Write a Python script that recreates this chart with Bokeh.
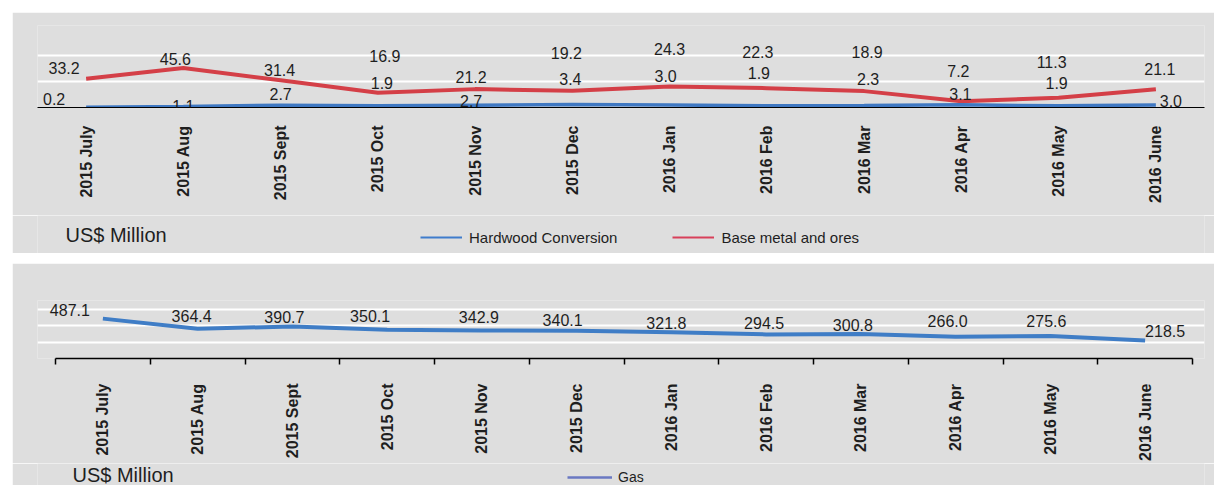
import math
from bokeh.plotting import figure
from bokeh.layouts import column
from bokeh.models import (ColumnDataSource, FixedTicker, Range1d, LinearAxis, Label,
                          LabelSet, Legend, LegendItem, Grid)
from bokeh.embed import file_html
from bokeh.resources import INLINE
from bokeh.core.properties import value

# ---------------- data ----------------
months = ["2015 July", "2015 Aug", "2015 Sept", "2015 Oct", "2015 Nov", "2015 Dec",
          "2016 Jan", "2016 Feb", "2016 Mar", "2016 Apr", "2016 May", "2016 June"]
hardwood = [0.2, 1.1, 2.7, 1.9, 2.7, 3.4, 3.0, 1.9, 2.3, 3.1, 1.9, 3.0]
base_metal = [33.2, 45.6, 31.4, 16.9, 21.2, 19.2, 24.3, 22.3, 18.9, 7.2, 11.3, 21.1]
gas = [487.1, 364.4, 390.7, 350.1, 342.9, 340.1, 321.8, 294.5, 300.8, 266.0, 275.6, 218.5]

# data-label offsets in pixels (screen, y positive = up)
base_dx = [-22, -8, -1, 7, -4, -6, 0, -9, 3, -3, -7, 4]
base_dy = [11, 9, 10, 37, 12, 38, 37, 36, 39, 30, 36, 20]
hw_dx = [-32, 0, 0, 4, -4, -2, -4, -8, 4, -1, -2, 15]
hw_dy = [8, 1, 11, 23, 4, 26, 29, 33, 27, 11, 23, 4]
gas_dx = [-33, -6, -8, -17, -3, -14, -5, -2, -8, -8, -4, 20]
gas_dy = [9, 13, 10, 14, 13, 11, 9, 11, 9, 16, 15, 10]

GRAY = "#dedede"
RED = "#d43f47"
BLUE = "#3f78c2"
GAS_BLUE = "#3f7dc6"
FONT = "Liberation Sans"
TXT = "#1e1e1e"
W = 1202
BL, BR = 25, 10   # shared left/right borders (column layouts align frames)

n = len(months)
xs = [i + 0.5 for i in range(n)]
overrides = {x: m for x, m in zip(xs, months)}


def fmt(v):
    return f"{v:.1f}"


def base_fig(height, xr, yr, mt, mb):
    return figure(width=W, height=height, x_range=xr, y_range=yr,
                  output_backend="svg", toolbar_location=None,
                  x_axis_type=None, y_axis_type=None,
                  min_border_left=BL, min_border_right=BR, min_border_top=mt,
                  min_border_bottom=mb, background_fill_color=GRAY,
                  border_fill_color=GRAY, outline_line_color=None)


def make_axis(minor=None, standoff=18, lw=1.5):
    ticker = FixedTicker(ticks=xs, minor_ticks=minor or [])
    ax = LinearAxis(ticker=ticker, major_label_overrides=overrides, bounds=(0, n),
                    major_tick_line_color=None, major_tick_in=0, major_tick_out=0,
                    axis_line_color="black", axis_line_width=lw,
                    major_label_orientation=math.pi / 2, major_label_standoff=standoff,
                    major_label_text_font=FONT, major_label_text_font_size="16px",
                    major_label_text_font_style="bold", major_label_text_color=TXT)
    if minor:
        ax.minor_tick_line_color = "black"
        ax.minor_tick_line_width = 1.5
        ax.minor_tick_in = 0
        ax.minor_tick_out = 6
    else:
        ax.minor_tick_line_color = None
    return ax


def strip(height):
    return base_fig(height, Range1d(0, 1), Range1d(0, 1), 0, 0)


def legend_key(fig, color, width):
    # placeholder renderer outside the visible range, used only as a legend key
    return fig.line([5, 6], [5, 5], line_color=color, line_width=width)


# ---------------- top panel ----------------
p1 = base_fig(203, Range1d(0, n), Range1d(0, 94.6), 13, 108)
p1.add_layout(Grid(dimension=1, ticker=FixedTicker(ticks=[30, 60]),
                   grid_line_color="white", grid_line_width=2))
p1.add_layout(make_axis(standoff=18, lw=1.2), "below")

src_b = ColumnDataSource(dict(x=xs, y=base_metal, t=[fmt(v) for v in base_metal],
                              dx=base_dx, dy=base_dy))
src_h = ColumnDataSource(dict(x=xs, y=hardwood, t=[fmt(v) for v in hardwood],
                              dx=hw_dx, dy=hw_dy))
for src in (src_b, src_h):
    p1.add_layout(LabelSet(x="x", y="y", text="t", x_offset="dx", y_offset="dy", source=src,
                           text_font=value(FONT), text_font_size="16px", text_color=TXT,
                           text_align="center", text_baseline="middle"))

p1.line(xs, base_metal, line_color=RED, line_width=4)
p1.line(xs, hardwood, line_color=BLUE, line_width=3.5)

s1 = strip(38)
d1 = legend_key(s1, "#3f7ccc", 2)
d2 = legend_key(s1, "#d8405a", 2)
s1.add_layout(Legend(items=[LegendItem(label="Hardwood Conversion", renderers=[d1]),
                            LegendItem(label="Base metal and ores", renderers=[d2])],
                     location=(383, 6), orientation="horizontal",
                     background_fill_alpha=0, border_line_color=None, padding=0, margin=0,
                     spacing=55, label_standoff=7, glyph_width=42, glyph_height=20,
                     label_height=20, label_text_font=FONT, label_text_font_size="15px",
                     label_text_color=TXT))
s1.add_layout(Label(x=28, y=18.5, x_units="screen", y_units="screen", text="US$ Million",
                    text_font=FONT, text_font_size="20px", text_color=TXT,
                    text_align="left", text_baseline="middle"))

# ---------------- bottom panel ----------------
p2 = base_fig(200, Range1d(-0.19, n + 0.1266), Range1d(0, 708.6), 37, 101)
p2.add_layout(Grid(dimension=1, ticker=FixedTicker(ticks=[200, 400, 600]),
                   grid_line_color="white", grid_line_width=2))
p2.add_layout(make_axis(minor=list(range(n + 1)), standoff=19, lw=1.5), "below")

src_g = ColumnDataSource(dict(x=xs, y=gas, t=[fmt(v) for v in gas], dx=gas_dx, dy=gas_dy))
p2.add_layout(LabelSet(x="x", y="y", text="t", x_offset="dx", y_offset="dy", source=src_g,
                       text_font=value(FONT), text_font_size="16px", text_color=TXT,
                       text_align="center", text_baseline="middle"))
p2.line(xs, gas, line_color=GAS_BLUE, line_width=4)

s2 = strip(22)
d3 = legend_key(s2, "#6a78c2", 2.5)
s2.add_layout(Legend(items=[LegendItem(label="Gas", renderers=[d3])],
                     location=(530, 0), orientation="horizontal",
                     background_fill_alpha=0, border_line_color=None, padding=0, margin=0,
                     label_standoff=6, glyph_width=45, glyph_height=12, label_height=12,
                     label_text_font=FONT, label_text_font_size="14px", label_text_color=TXT))
s2.add_layout(Label(x=35, y=10.5, x_units="screen", y_units="screen", text="US$ Million",
                    text_font=FONT, text_font_size="20px", text_color=TXT,
                    text_align="left", text_baseline="middle"))

p1.margin = (12, 0, 0, 12)
s1.margin = (0, 0, 0, 12)
p2.margin = (10, 0, 0, 12)
s2.margin = (0, 0, 0, 12)
layout = column(p1, s1, p2, s2, spacing=0)

open("out.html", "w").write(file_html(layout, INLINE))
